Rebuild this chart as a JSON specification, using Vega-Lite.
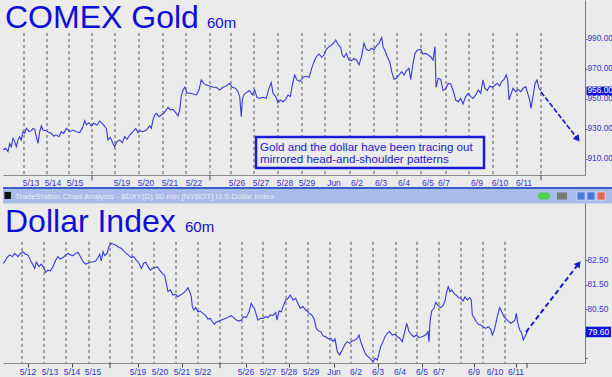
{
"$schema": "https://vega.github.io/schema/vega-lite/v6.json",
"background": "#ebebeb",
"padding": 0,
"spacing": 13,
"bounds": "flush",
"config": {"view": {"stroke": null, "fill": "#ebebeb"}, "font": "Liberation Sans"},
"datasets": {
"gold": [
{"x":0,"v":916.0},{"x":2.7,"v":917.1},{"x":5,"v":914.9},{"x":6.7,"v":920.4},{"x":8.3,"v":918.2},{"x":10,"v":923.8},{"x":11.7,"v":921.6},{"x":13.3,"v":918.2},{"x":15,"v":922.7},{"x":16.7,"v":924.9},{"x":18.3,"v":922.7},{"x":20,"v":928.2},{"x":21.7,"v":927.1},{"x":23.3,"v":930.4},{"x":26,"v":928.2},{"x":28.3,"v":928.9},{"x":30,"v":930.4},{"x":31.7,"v":929.8},{"x":33.3,"v":924.9},{"x":35,"v":920.4},{"x":36.7,"v":928.2},{"x":38.3,"v":932.0},{"x":40,"v":929.3},{"x":43.3,"v":928.9},{"x":46,"v":927.6},{"x":48.3,"v":927.1},{"x":50.7,"v":925.3},{"x":53.3,"v":926.0},{"x":56,"v":924.9},{"x":58.3,"v":928.2},{"x":60.7,"v":927.1},{"x":63.3,"v":930.4},{"x":66.7,"v":928.2},{"x":70,"v":929.3},{"x":73.3,"v":928.2},{"x":76.7,"v":927.6},{"x":79.3,"v":930.4},{"x":81.7,"v":935.6},{"x":83.3,"v":932.7},{"x":86,"v":934.2},{"x":88.3,"v":932.0},{"x":90.7,"v":933.8},{"x":94,"v":932.7},{"x":96.7,"v":935.3},{"x":100,"v":933.3},{"x":103.3,"v":930.4},{"x":105,"v":922.7},{"x":107.3,"v":924.4},{"x":110,"v":920.4},{"x":111.7,"v":918.2},{"x":114,"v":921.6},{"x":116.7,"v":922.7},{"x":119.3,"v":920.9},{"x":121.7,"v":924.9},{"x":124,"v":923.1},{"x":126.7,"v":926.0},{"x":130,"v":928.2},{"x":132.7,"v":930.4},{"x":135,"v":927.6},{"x":137.3,"v":928.9},{"x":140,"v":928.2},{"x":143.3,"v":929.3},{"x":146.7,"v":932.0},{"x":148.3,"v":930.4},{"x":150,"v":936.0},{"x":151.7,"v":939.3},{"x":153.3,"v":940.4},{"x":156,"v":938.2},{"x":158.3,"v":939.3},{"x":160.7,"v":940.4},{"x":163.3,"v":942.7},{"x":165,"v":944.4},{"x":167.3,"v":942.7},{"x":170,"v":943.1},{"x":172.7,"v":940.9},{"x":175,"v":938.7},{"x":176.7,"v":942.7},{"x":178.3,"v":952.0},{"x":180,"v":956.0},{"x":181.7,"v":957.8},{"x":184,"v":954.2},{"x":186.7,"v":953.8},{"x":190,"v":953.3},{"x":193.3,"v":952.7},{"x":196,"v":956.0},{"x":198.3,"v":962.7},{"x":200.7,"v":960.4},{"x":203.3,"v":959.3},{"x":206.7,"v":958.7},{"x":210,"v":957.8},{"x":213.3,"v":957.8},{"x":216.7,"v":956.0},{"x":220,"v":957.8},{"x":223.3,"v":958.7},{"x":226.7,"v":960.4},{"x":229.3,"v":957.8},{"x":232.7,"v":957.1},{"x":235,"v":954.9},{"x":236.7,"v":951.6},{"x":238.3,"v":938.2},{"x":239.3,"v":949.3},{"x":240.7,"v":952.7},{"x":243.3,"v":954.2},{"x":246.7,"v":955.6},{"x":249.3,"v":952.7},{"x":251.7,"v":956.0},{"x":254,"v":951.1},{"x":256.7,"v":950.4},{"x":260,"v":951.1},{"x":263.3,"v":950.4},{"x":266,"v":957.1},{"x":268.3,"v":960.9},{"x":270,"v":953.8},{"x":272.7,"v":951.6},{"x":275,"v":947.6},{"x":277.3,"v":949.3},{"x":280,"v":948.2},{"x":282.7,"v":949.8},{"x":285,"v":952.7},{"x":287.3,"v":951.6},{"x":289.3,"v":959.3},{"x":291.7,"v":966.0},{"x":294,"v":962.7},{"x":296.7,"v":961.6},{"x":300,"v":964.4},{"x":303.3,"v":965.3},
{"x":306,"v":964.4},{"x":308.7,"v":970.4},{"x":311,"v":974.9},{"x":313.3,"v":978.2},{"x":316,"v":980.0},{"x":318.7,"v":977.8},{"x":321,"v":979.3},{"x":323.3,"v":983.1},{"x":326,"v":984.9},{"x":328.7,"v":986.0},{"x":331,"v":987.6},{"x":332.7,"v":989.3},{"x":335.3,"v":986.0},{"x":337.7,"v":984.4},{"x":339.3,"v":979.3},{"x":341,"v":977.8},{"x":343.3,"v":980.4},{"x":346,"v":976.0},{"x":348.7,"v":975.6},{"x":351,"v":977.1},{"x":353.3,"v":976.0},{"x":356,"v":972.7},{"x":358.3,"v":977.8},{"x":361,"v":987.1},{"x":363.3,"v":983.1},{"x":366,"v":982.2},{"x":368.7,"v":983.8},{"x":371,"v":982.7},{"x":373.3,"v":985.3},{"x":376,"v":987.1},{"x":378.7,"v":991.1},{"x":380,"v":984.9},{"x":382,"v":982.2},{"x":384.3,"v":978.2},{"x":386.7,"v":974.9},{"x":388.7,"v":968.2},{"x":391,"v":963.1},{"x":393.3,"v":963.8},{"x":396,"v":966.0},{"x":398.7,"v":968.2},{"x":401,"v":966.0},{"x":403.3,"v":968.9},{"x":406,"v":970.4},{"x":407.7,"v":963.1},{"x":410,"v":973.8},{"x":412,"v":980.4},{"x":414.3,"v":982.7},{"x":417.7,"v":983.1},{"x":420,"v":980.0},{"x":422.7,"v":980.4},{"x":425.3,"v":979.3},{"x":427.7,"v":978.2},{"x":430,"v":976.0},{"x":432,"v":984.9},{"x":433,"v":957.8},{"x":435.3,"v":963.8},{"x":437.7,"v":963.1},{"x":440,"v":955.6},{"x":442.7,"v":957.1},{"x":445.3,"v":960.4},{"x":447.7,"v":960.0},{"x":450,"v":956.0},{"x":452.7,"v":949.3},{"x":455.3,"v":948.2},{"x":457.7,"v":950.4},{"x":460,"v":946.7},{"x":462.7,"v":951.6},{"x":465.3,"v":953.8},{"x":467.7,"v":951.6},{"x":470,"v":950.4},{"x":472.7,"v":952.7},{"x":475.3,"v":956.0},{"x":477.7,"v":953.8},{"x":480,"v":962.7},{"x":482,"v":957.1},{"x":484.3,"v":955.6},{"x":486.7,"v":958.7},{"x":489.3,"v":957.8},{"x":492,"v":959.3},{"x":494.3,"v":960.4},{"x":496.7,"v":958.7},{"x":498.7,"v":961.6},{"x":501,"v":963.1},{"x":503.3,"v":966.0},{"x":504.7,"v":962.7},{"x":506,"v":949.3},{"x":507.7,"v":952.7},{"x":510,"v":957.1},{"x":512.7,"v":954.9},{"x":515.3,"v":956.4},{"x":517.7,"v":954.9},{"x":520,"v":957.1},{"x":522.7,"v":958.2},{"x":524.7,"v":953.8},{"x":526.7,"v":949.3},{"x":528,"v":943.8},{"x":530,"v":951.6},{"x":532,"v":960.4},{"x":534,"v":962.7},{"x":536,"v":957.1},{"x":537.7,"v":955.6}
],
"dollar": [
{"x":0,"v":82.38},{"x":1.7,"v":82.44},{"x":4,"v":82.61},{"x":6.7,"v":82.72},{"x":9.3,"v":82.65},{"x":11.7,"v":82.78},{"x":15,"v":82.65},{"x":17.3,"v":82.78},{"x":20,"v":82.85},{"x":22.7,"v":82.74},{"x":25,"v":82.72},{"x":27.3,"v":82.51},{"x":30,"v":82.31},{"x":31.7,"v":82.17},{"x":33.3,"v":82.42},{"x":36,"v":82.24},{"x":38.3,"v":82.34},{"x":40.7,"v":82.20},{"x":42.7,"v":82.01},{"x":45,"v":82.10},{"x":47.3,"v":82.06},{"x":50,"v":82.24},{"x":52.7,"v":82.51},{"x":55,"v":82.65},{"x":57.3,"v":82.55},{"x":60,"v":82.61},{"x":62.7,"v":82.72},{"x":65,"v":82.78},{"x":67.3,"v":82.72},{"x":70,"v":82.69},{"x":72.7,"v":82.78},{"x":75,"v":82.83},{"x":77.3,"v":82.65},{"x":80,"v":82.44},{"x":82.7,"v":82.34},{"x":85,"v":82.38},{"x":87.3,"v":82.42},{"x":90,"v":82.44},{"x":92.7,"v":82.47},{"x":95,"v":82.61},{"x":96.7,"v":82.74},{"x":98.3,"v":82.47},{"x":100,"v":82.85},{"x":101.7,"v":82.69},{"x":104,"v":82.78},{"x":106,"v":83.06},{"x":108.3,"v":83.19},{"x":110.7,"v":83.15},{"x":113.3,"v":83.10},{"x":116,"v":83.02},{"x":118.3,"v":82.99},{"x":120.7,"v":82.88},{"x":123.3,"v":82.78},{"x":126,"v":82.69},{"x":128.3,"v":82.61},{"x":130.7,"v":82.65},{"x":133.3,"v":82.51},{"x":136,"v":82.38},{"x":138.3,"v":82.17},{"x":140.7,"v":82.38},{"x":142.7,"v":82.42},{"x":145,"v":82.24},{"x":147.3,"v":82.10},{"x":149.3,"v":82.17},{"x":151.7,"v":82.20},{"x":154,"v":82.24},{"x":156.7,"v":82.10},{"x":159.3,"v":81.97},{"x":161.7,"v":81.87},{"x":163.3,"v":81.56},{"x":165,"v":81.22},{"x":167.3,"v":81.29},{"x":170,"v":81.08},{"x":172.7,"v":81.11},{"x":175,"v":81.01},{"x":177.3,"v":81.08},{"x":180,"v":81.15},{"x":182.7,"v":81.25},{"x":185,"v":81.38},{"x":186.7,"v":81.22},{"x":188.3,"v":81.01},{"x":189.3,"v":80.61},{"x":190.7,"v":80.47},{"x":192.7,"v":80.57},{"x":195,"v":80.40},{"x":197.3,"v":80.43},{"x":200,"v":80.33},{"x":202.7,"v":80.24},{"x":205,"v":80.10},{"x":207.3,"v":80.13},{"x":209.3,"v":79.99},{"x":211.7,"v":79.89},{"x":213.3,"v":79.97},{"x":216,"v":80.02},{"x":218.3,"v":80.06},{"x":220.7,"v":80.10},{"x":223.3,"v":80.13},{"x":226,"v":80.20},{"x":228.3,"v":80.24},{"x":230.7,"v":80.16},{"x":233.3,"v":80.06},{"x":236,"v":80.02},{"x":238.3,"v":80.06},{"x":240.7,"v":80.20},{"x":243.3,"v":80.16},{"x":246,"v":80.40},{"x":248.3,"v":80.74},{"x":250,"v":80.61},{"x":251.7,"v":80.51},{"x":253.3,"v":80.27},{"x":255,"v":80.06},{"x":257.3,"v":80.13},{"x":260,"v":80.13},{"x":262.7,"v":80.20},{"x":265,"v":80.16},{"x":267.3,"v":80.27},{"x":270,"v":80.24},{"x":272.7,"v":80.37},{"x":274,"v":80.06},{"x":276,"v":80.43},{"x":278.3,"v":80.40},{"x":280.7,"v":80.68},{"x":282.7,"v":80.88},{"x":285,"v":80.95},{"x":287.3,"v":81.08},{"x":290,"v":80.88},{"x":292.7,"v":80.95},{"x":295,"v":80.74},{"x":297.3,"v":80.54},{"x":300,"v":80.61},{"x":302.7,"v":80.47},{"x":305,"v":80.40},
{"x":306,"v":80.34},{"x":308.7,"v":80.27},{"x":311,"v":80.13},{"x":313.3,"v":79.72},{"x":315.3,"v":79.62},{"x":317.7,"v":79.59},{"x":320,"v":79.42},{"x":322.7,"v":79.38},{"x":325.3,"v":79.29},{"x":327.7,"v":79.32},{"x":330,"v":79.18},{"x":332,"v":79.29},{"x":334.3,"v":78.77},{"x":336.7,"v":78.64},{"x":339.3,"v":78.84},{"x":342,"v":79.07},{"x":344.3,"v":79.18},{"x":346.7,"v":79.11},{"x":349.3,"v":79.21},{"x":352,"v":79.25},{"x":354.3,"v":79.32},{"x":356,"v":79.45},{"x":357.7,"v":79.18},{"x":360,"v":78.93},{"x":362.7,"v":78.66},{"x":365.3,"v":78.56},{"x":367.7,"v":78.47},{"x":370,"v":78.36},{"x":372,"v":78.50},{"x":374.3,"v":78.43},{"x":376,"v":78.71},{"x":377.7,"v":78.98},{"x":380,"v":79.18},{"x":382,"v":79.38},{"x":384.3,"v":79.52},{"x":386.7,"v":79.59},{"x":389.3,"v":79.45},{"x":392,"v":79.48},{"x":394.3,"v":79.38},{"x":396.7,"v":79.32},{"x":399.3,"v":79.18},{"x":401.7,"v":79.59},{"x":403.7,"v":79.93},{"x":406,"v":79.59},{"x":408.7,"v":79.45},{"x":411,"v":79.38},{"x":413.3,"v":79.45},{"x":416,"v":79.34},{"x":418.7,"v":79.38},{"x":421,"v":79.42},{"x":423.3,"v":79.48},{"x":425,"v":79.59},{"x":426,"v":79.18},{"x":427,"v":80.00},{"x":428.7,"v":80.43},{"x":431,"v":80.54},{"x":432.7,"v":80.79},{"x":435,"v":80.65},{"x":437.7,"v":80.57},{"x":440,"v":80.65},{"x":442,"v":80.84},{"x":443.3,"v":81.15},{"x":445.3,"v":81.42},{"x":447,"v":81.22},{"x":448.7,"v":81.29},{"x":451,"v":81.15},{"x":453.3,"v":81.08},{"x":455.3,"v":80.98},{"x":457.7,"v":80.95},{"x":460,"v":80.84},{"x":462,"v":81.01},{"x":464.3,"v":80.88},{"x":466.7,"v":80.98},{"x":468.3,"v":80.88},{"x":469.3,"v":80.27},{"x":471,"v":80.16},{"x":473.3,"v":79.99},{"x":475.3,"v":79.89},{"x":477.7,"v":79.86},{"x":480,"v":79.79},{"x":482.7,"v":79.72},{"x":485.3,"v":79.79},{"x":487.7,"v":79.69},{"x":489.3,"v":79.45},{"x":491,"v":79.62},{"x":492.7,"v":79.89},{"x":494.3,"v":80.20},{"x":496.7,"v":80.57},{"x":498.7,"v":80.40},{"x":501,"v":80.20},{"x":503.3,"v":80.10},{"x":505.3,"v":80.02},{"x":507.7,"v":79.93},{"x":510,"v":79.99},{"x":512,"v":80.06},{"x":513.3,"v":80.33},{"x":514.7,"v":79.97},{"x":516.7,"v":79.66},{"x":518.7,"v":79.52},{"x":520.3,"v":79.25},{"x":522,"v":79.38},{"x":524.3,"v":79.59}
],
"golddays": [{"x":21},{"x":44},{"x":66},{"x":89},{"x":112},{"x":136},{"x":160},{"x":183},{"x":207},{"x":228},{"x":251},{"x":275},{"x":299},{"x":322},{"x":347},{"x":371},{"x":394},{"x":418},{"x":443},{"x":466},{"x":490},{"x":514},{"x":538}],
"dollardays": [{"x":19},{"x":41},{"x":63},{"x":86},{"x":107},{"x":129},{"x":151},{"x":173},{"x":195},{"x":217},{"x":239},{"x":260},{"x":283},{"x":305},{"x":327},{"x":348},{"x":370},{"x":393},{"x":414},{"x":436},{"x":458},{"x":480},{"x":502}],
"goldlabels": [{"x":28,"label":"5/13"},{"x":50,"label":"5/14"},{"x":72,"label":"5/15"},{"x":119,"label":"5/19"},{"x":143,"label":"5/20"},{"x":167,"label":"5/21"},{"x":191,"label":"5/22"},{"x":234,"label":"5/26"},{"x":258,"label":"5/27"},{"x":282,"label":"5/28"},{"x":304,"label":"5/29"},{"x":331,"label":"Jun"},{"x":354,"label":"6/2"},{"x":378,"label":"6/3"},{"x":401,"label":"6/4"},{"x":425,"label":"6/5"},{"x":441,"label":"6/7"},{"x":474,"label":"6/9"},{"x":497,"label":"6/10"},{"x":521,"label":"6/11"}],
"dollarlabels": [{"x":25,"label":"5/12"},{"x":47,"label":"5/13"},{"x":69,"label":"5/14"},{"x":90,"label":"5/15"},{"x":135,"label":"5/19"},{"x":157,"label":"5/20"},{"x":179,"label":"5/21"},{"x":200,"label":"5/22"},{"x":243,"label":"5/26"},{"x":265,"label":"5/27"},{"x":286,"label":"5/28"},{"x":308,"label":"5/29"},{"x":331,"label":"Jun"},{"x":353,"label":"6/2"},{"x":375,"label":"6/3"},{"x":397,"label":"6/4"},{"x":419,"label":"6/5"},{"x":436,"label":"6/7"},{"x":471,"label":"6/9"},{"x":492,"label":"6/10"},{"x":513,"label":"6/11"}],
"one": [{}]
},
"vconcat": [
{
"width": 582, "height": 175,
"data": {"name": "one"},
"layer": [
{"data": {"name": "golddays"}, "mark": {"type": "rule", "color": "#555555", "strokeDash": [3, 3], "strokeWidth": 1},
 "encoding": {"x": {"field": "x", "type": "quantitative", "scale": {"domain": [0, 582], "nice": false, "zero": false},
   "axis": {"orient": "bottom", "title": null, "grid": false, "ticks": false, "labels": false, "domainColor": "#8a8a8a"}},
  "y": {"datum": 994, "type": "quantitative", "scale": {"domain": [899.33, 1016], "nice": false, "zero": false},
   "axis": {"orient": "right", "title": null, "grid": false, "values": [910, 930, 950, 970, 990], "format": ".2f", "tickSize": 2, "tickColor": "#555555", "domainColor": "#777777", "labelColor": "#3535c8", "labelFontSize": 8.3, "labelPadding": 0}},
  "y2": {"datum": 899.33}}},
{"data": {"values": [{"x": 89}, {"x": 207}, {"x": 538}]}, "mark": {"type": "rule", "color": "#444444", "strokeWidth": 1},
 "encoding": {"x": {"field": "x", "type": "quantitative", "scale": {"domain": [0, 582], "nice": false, "zero": false}},
  "y": {"datum": 899.33, "type": "quantitative", "scale": {"domain": [899.33, 1016], "nice": false, "zero": false}},
  "y2": {"datum": 895.8}}},
{"data": {"name": "goldlabels"}, "mark": {"type": "text", "fontSize": 8.5, "color": "#3535c8", "align": "center", "baseline": "middle"},
 "encoding": {"x": {"field": "x", "type": "quantitative", "scale": {"domain": [0, 582], "nice": false, "zero": false}},
  "y": {"datum": 893.8, "type": "quantitative", "scale": {"domain": [899.33, 1016], "nice": false, "zero": false}},
  "text": {"field": "label"}}},
{"data": {"name": "gold"}, "mark": {"type": "line", "color": "#3838dc", "strokeWidth": 1.1},
 "encoding": {"x": {"field": "x", "type": "quantitative", "scale": {"domain": [0, 582], "nice": false, "zero": false}},
  "y": {"field": "v", "type": "quantitative", "scale": {"domain": [899.33, 1016], "nice": false, "zero": false}}}},
{"mark": {"type": "text", "text": "COMEX Gold", "fontSize": 32, "color": "#0d0dd8", "align": "left", "baseline": "alphabetic"},
 "encoding": {"x": {"datum": 2, "type": "quantitative", "scale": {"domain": [0, 582], "nice": false, "zero": false}},
  "y": {"datum": 997.3, "type": "quantitative", "scale": {"domain": [899.33, 1016], "nice": false, "zero": false}}}},
{"mark": {"type": "text", "text": "60m", "fontSize": 15, "color": "#0d0dd8", "align": "left", "baseline": "alphabetic"},
 "encoding": {"x": {"datum": 204, "type": "quantitative", "scale": {"domain": [0, 582], "nice": false, "zero": false}},
  "y": {"datum": 997.3, "type": "quantitative", "scale": {"domain": [899.33, 1016], "nice": false, "zero": false}}}},
{"mark": {"type": "rect", "fill": "#ebebeb", "stroke": "#1c1cd4", "strokeWidth": 2.5},
 "encoding": {"x": {"datum": 253, "type": "quantitative", "scale": {"domain": [0, 582], "nice": false, "zero": false}}, "x2": {"datum": 481},
  "y": {"datum": 924.7, "type": "quantitative", "scale": {"domain": [899.33, 1016], "nice": false, "zero": false}}, "y2": {"datum": 904}}},
{"mark": {"type": "text", "text": "Gold and the dollar have been tracing out", "fontSize": 11.6, "color": "#2222c8", "align": "left", "baseline": "alphabetic"},
 "encoding": {"x": {"datum": 257, "type": "quantitative", "scale": {"domain": [0, 582], "nice": false, "zero": false}},
  "y": {"datum": 915.4, "type": "quantitative", "scale": {"domain": [899.33, 1016], "nice": false, "zero": false}}}},
{"mark": {"type": "text", "text": "mirrored head-and-shoulder patterns", "fontSize": 11.6, "color": "#2222c8", "align": "left", "baseline": "alphabetic"},
 "encoding": {"x": {"datum": 257, "type": "quantitative", "scale": {"domain": [0, 582], "nice": false, "zero": false}},
  "y": {"datum": 907.1, "type": "quantitative", "scale": {"domain": [899.33, 1016], "nice": false, "zero": false}}}},
{"mark": {"type": "rule", "color": "#1a1ad0", "strokeWidth": 1.6, "strokeDash": [5, 2]},
 "encoding": {"x": {"datum": 538, "type": "quantitative", "scale": {"domain": [0, 582], "nice": false, "zero": false}}, "x2": {"datum": 574.6},
  "y": {"datum": 954.7, "type": "quantitative", "scale": {"domain": [899.33, 1016], "nice": false, "zero": false}}, "y2": {"datum": 923.4}}},
{"mark": {"type": "point", "shape": "triangle-up", "filled": true, "color": "#1a1ad0", "opacity": 1, "size": 55, "angle": 141.5},
 "encoding": {"x": {"datum": 574.6, "type": "quantitative", "scale": {"domain": [0, 582], "nice": false, "zero": false}},
  "y": {"datum": 923.4, "type": "quantitative", "scale": {"domain": [899.33, 1016], "nice": false, "zero": false}}}},
{"mark": {"type": "rect", "fill": "#1010e0"},
 "encoding": {"x": {"datum": 583.5, "type": "quantitative", "scale": {"domain": [0, 582], "nice": false, "zero": false}}, "x2": {"datum": 612},
  "y": {"datum": 958.3, "type": "quantitative", "scale": {"domain": [899.33, 1016], "nice": false, "zero": false}}, "y2": {"datum": 952.5}}},
{"mark": {"type": "text", "text": "956.00", "fontSize": 8.3, "color": "#ffffff", "align": "left", "baseline": "middle"},
 "encoding": {"x": {"datum": 584.5, "type": "quantitative", "scale": {"domain": [0, 582], "nice": false, "zero": false}},
  "y": {"datum": 955.4, "type": "quantitative", "scale": {"domain": [899.33, 1016], "nice": false, "zero": false}}}}
]
},
{
"width": 582, "height": 175,
"data": {"name": "one"},
"layer": [
{"data": {"name": "dollardays"}, "mark": {"type": "rule", "color": "#555555", "strokeDash": [3, 3], "strokeWidth": 1},
 "encoding": {"x": {"field": "x", "type": "quantitative", "scale": {"domain": [0, 582], "nice": false, "zero": false},
   "axis": {"orient": "bottom", "title": null, "grid": false, "ticks": true, "labels": false, "tickSize": 4, "tickColor": "#444444", "domainColor": "#8a8a8a",
    "values": [25, 47, 69, 90, 135, 157, 179, 200, 243, 265, 286, 308, 331, 353, 375, 397, 419, 436, 471, 492, 513]}},
  "y": {"datum": 83.25, "type": "quantitative", "scale": {"domain": [78.308, 85.45], "nice": false, "zero": false},
   "axis": {"orient": "right", "title": null, "grid": false, "values": [78.5, 79.5, 80.5, 81.5, 82.5], "labelExpr": "datum.value < 80 ? '' : format(datum.value, '.2f')", "tickSize": 2, "tickColor": "#555555", "domainColor": "#777777", "labelColor": "#3535c8", "labelFontSize": 8.3, "labelPadding": 0}},
  "y2": {"datum": 78.308}}},
{"data": {"values": [{"x": 107}, {"x": 217}, {"x": 524}]}, "mark": {"type": "rule", "color": "#444444", "strokeWidth": 1},
 "encoding": {"x": {"field": "x", "type": "quantitative", "scale": {"domain": [0, 582], "nice": false, "zero": false}},
  "y": {"datum": 78.308, "type": "quantitative", "scale": {"domain": [78.308, 85.45], "nice": false, "zero": false}},
  "y2": {"datum": 78.1}}},
{"data": {"name": "dollarlabels"}, "mark": {"type": "text", "fontSize": 8.5, "color": "#3535c8", "align": "center", "baseline": "middle"},
 "encoding": {"x": {"field": "x", "type": "quantitative", "scale": {"domain": [0, 582], "nice": false, "zero": false}},
  "y": {"datum": 77.96, "type": "quantitative", "scale": {"domain": [78.308, 85.45], "nice": false, "zero": false}},
  "text": {"field": "label"}}},
{"data": {"name": "dollar"}, "mark": {"type": "line", "color": "#3838dc", "strokeWidth": 1.1},
 "encoding": {"x": {"field": "x", "type": "quantitative", "scale": {"domain": [0, 582], "nice": false, "zero": false}},
  "y": {"field": "v", "type": "quantitative", "scale": {"domain": [78.308, 85.45], "nice": false, "zero": false}}}},
{"mark": {"type": "rect", "fill": "#3b5cc8"},
 "encoding": {"x": {"datum": 0, "type": "quantitative", "scale": {"domain": [0, 582], "nice": false, "zero": false}}, "x2": {"datum": 612},
  "y": {"datum": 85.492, "type": "quantitative", "scale": {"domain": [78.308, 85.45], "nice": false, "zero": false}}, "y2": {"datum": 85.41}}},
{"mark": {"type": "rect", "fill": "#a9bbe8"},
 "encoding": {"x": {"datum": 0, "type": "quantitative", "scale": {"domain": [0, 582], "nice": false, "zero": false}}, "x2": {"datum": 612},
  "y": {"datum": 85.41, "type": "quantitative", "scale": {"domain": [78.308, 85.45], "nice": false, "zero": false}}, "y2": {"datum": 84.818}}},
{"mark": {"type": "rect", "fill": "#111111"},
 "encoding": {"x": {"datum": 1.5, "type": "quantitative", "scale": {"domain": [0, 582], "nice": false, "zero": false}}, "x2": {"datum": 8},
  "y": {"datum": 85.29, "type": "quantitative", "scale": {"domain": [78.308, 85.45], "nice": false, "zero": false}}, "y2": {"datum": 85.0}}},
{"mark": {"type": "text", "text": "TradeStation Chart Analysis - $DXY(D) 60 min [NYBOT] U.S Dollar Index", "fontSize": 8, "color": "#e8ecfa", "align": "left", "baseline": "alphabetic"},
 "encoding": {"x": {"datum": 12, "type": "quantitative", "scale": {"domain": [0, 582], "nice": false, "zero": false}},
  "y": {"datum": 85.0, "type": "quantitative", "scale": {"domain": [78.308, 85.45], "nice": false, "zero": false}}}},
{"mark": {"type": "rect", "fill": "#4fd14f", "cornerRadius": 3},
 "encoding": {"x": {"datum": 535, "type": "quantitative", "scale": {"domain": [0, 582], "nice": false, "zero": false}}, "x2": {"datum": 547},
  "y": {"datum": 85.27, "type": "quantitative", "scale": {"domain": [78.308, 85.45], "nice": false, "zero": false}}, "y2": {"datum": 84.98}}},
{"mark": {"type": "rect", "fill": "#7a7a7a"},
 "encoding": {"x": {"datum": 554, "type": "quantitative", "scale": {"domain": [0, 582], "nice": false, "zero": false}}, "x2": {"datum": 564},
  "y": {"datum": 85.27, "type": "quantitative", "scale": {"domain": [78.308, 85.45], "nice": false, "zero": false}}, "y2": {"datum": 84.98}}},
{"mark": {"type": "rect", "fill": "#4a78e0", "stroke": "#ffffff", "strokeWidth": 0.5},
 "encoding": {"x": {"datum": 574, "type": "quantitative", "scale": {"domain": [0, 582], "nice": false, "zero": false}}, "x2": {"datum": 582},
  "y": {"datum": 85.29, "type": "quantitative", "scale": {"domain": [78.308, 85.45], "nice": false, "zero": false}}, "y2": {"datum": 84.96}}},
{"mark": {"type": "rect", "fill": "#4a78e0", "stroke": "#ffffff", "strokeWidth": 0.5},
 "encoding": {"x": {"datum": 584, "type": "quantitative", "scale": {"domain": [0, 582], "nice": false, "zero": false}}, "x2": {"datum": 592},
  "y": {"datum": 85.29, "type": "quantitative", "scale": {"domain": [78.308, 85.45], "nice": false, "zero": false}}, "y2": {"datum": 84.96}}},
{"mark": {"type": "rect", "fill": "#e06a5a", "stroke": "#ffffff", "strokeWidth": 0.5},
 "encoding": {"x": {"datum": 594, "type": "quantitative", "scale": {"domain": [0, 582], "nice": false, "zero": false}}, "x2": {"datum": 602},
  "y": {"datum": 85.29, "type": "quantitative", "scale": {"domain": [78.308, 85.45], "nice": false, "zero": false}}, "y2": {"datum": 84.96}}},
{"mark": {"type": "text", "text": "Dollar Index", "fontSize": 32, "color": "#0d0dd8", "align": "left", "baseline": "alphabetic"},
 "encoding": {"x": {"datum": 2, "type": "quantitative", "scale": {"domain": [0, 582], "nice": false, "zero": false}},
  "y": {"datum": 83.655, "type": "quantitative", "scale": {"domain": [78.308, 85.45], "nice": false, "zero": false}}}},
{"mark": {"type": "text", "text": "60m", "fontSize": 15, "color": "#0d0dd8", "align": "left", "baseline": "alphabetic"},
 "encoding": {"x": {"datum": 182, "type": "quantitative", "scale": {"domain": [0, 582], "nice": false, "zero": false}},
  "y": {"datum": 83.655, "type": "quantitative", "scale": {"domain": [78.308, 85.45], "nice": false, "zero": false}}}},
{"mark": {"type": "rule", "color": "#1a1ad0", "strokeWidth": 2, "strokeDash": [5, 3]},
 "encoding": {"x": {"datum": 523, "type": "quantitative", "scale": {"domain": [0, 582], "nice": false, "zero": false}}, "x2": {"datum": 575.6},
  "y": {"datum": 79.57, "type": "quantitative", "scale": {"domain": [78.308, 85.45], "nice": false, "zero": false}}, "y2": {"datum": 82.36}}},
{"mark": {"type": "point", "shape": "triangle-up", "filled": true, "color": "#1a1ad0", "opacity": 1, "size": 55, "angle": 37.4},
 "encoding": {"x": {"datum": 575.6, "type": "quantitative", "scale": {"domain": [0, 582], "nice": false, "zero": false}},
  "y": {"datum": 82.36, "type": "quantitative", "scale": {"domain": [78.308, 85.45], "nice": false, "zero": false}}}},
{"mark": {"type": "rect", "fill": "#1010e0"},
 "encoding": {"x": {"datum": 583, "type": "quantitative", "scale": {"domain": [0, 582], "nice": false, "zero": false}}, "x2": {"datum": 608},
  "y": {"datum": 79.79, "type": "quantitative", "scale": {"domain": [78.308, 85.45], "nice": false, "zero": false}}, "y2": {"datum": 79.36}}},
{"mark": {"type": "text", "text": "79.60", "fontSize": 8.5, "color": "#ffffff", "align": "left", "baseline": "middle"},
 "encoding": {"x": {"datum": 585, "type": "quantitative", "scale": {"domain": [0, 582], "nice": false, "zero": false}},
  "y": {"datum": 79.58, "type": "quantitative", "scale": {"domain": [78.308, 85.45], "nice": false, "zero": false}}}}
]
}
]
}
